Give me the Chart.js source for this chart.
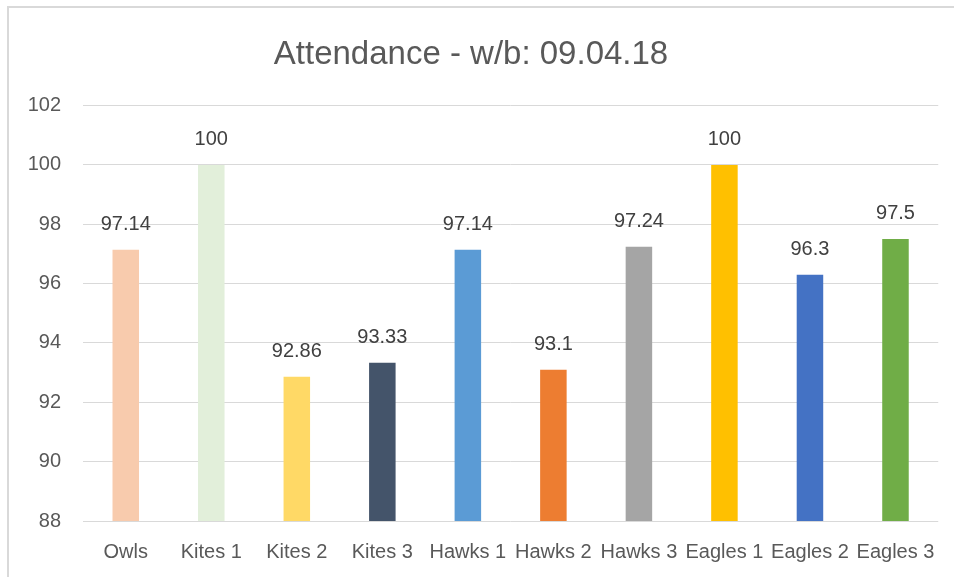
<!DOCTYPE html>
<html>
<head>
<meta charset="utf-8">
<script src="https://cdn.jsdelivr.net/npm/chart.js@4"></script>
<style>
  html, body { margin: 0; padding: 0; background: #fff; }
  #frame { position: absolute; left: 7px; top: 6px; width: 1000px; height: 700px;
           border-left: 2px solid #d9d9d9; border-top: 2px solid #d9d9d9; }
  #wrap { position: absolute; left: 0; top: 0; width: 954px; height: 577px; }
</style>
</head>
<body>
<div id="frame"></div>
<div id="wrap"><canvas id="chartAttendance"></canvas></div>
<script>
// classes and attendance %
const classNames = ['Owls', 'Kites 1', 'Kites 2', 'Kites 3', 'Hawks 1', 'Hawks 2', 'Hawks 3', 'Eagles 1', 'Eagles 2', 'Eagles 3'];
const attendance = [97.14, 100, 92.86, 93.33, 97.14, 93.1, 97.24, 100, 96.3, 97.5];
const barColours = ['#F8CBAD', '#E2EFDA', '#FFD966', '#44546A', '#5B9BD5', '#ED7D31', '#A5A5A5', '#FFC000', '#4472C4', '#70AD47'];
const yTicks = [88, 90, 92, 94, 96, 98, 100, 102];

const fontFam = '"Liberation Sans", Arial, sans-serif';

// draws the value over each bar
const valueLabels = {
  id: 'valueLabels',
  afterDatasetsDraw(chart) {
    const ctx = chart.ctx;
    const meta = chart.getDatasetMeta(0);
    ctx.save();
    ctx.font = '20px ' + fontFam;
    ctx.fillStyle = '#404040';
    ctx.textAlign = 'center';
    ctx.textBaseline = 'alphabetic';
    meta.data.forEach(function(bar, i) {
      ctx.fillText(String(chart.data.datasets[0].data[i]), bar.x, bar.y - 20);
    });
    ctx.restore();
  }
};

const config_attendance = {
  type: 'bar',
  data: {
    labels: classNames,
    datasets: [{
      label: 'Attendance',
      data: attendance,
      backgroundColor: barColours,
      barPercentage: 0.31,
      categoryPercentage: 1
    }]
  },
  options: {
    responsive: true,
    maintainAspectRatio: false,
    animation: false,
    layout: { padding: { left: 0, right: 12, top: 0, bottom: 12 } },
    plugins: {
      legend: { display: false },
      tooltip: { enabled: false },
      title: {
        display: true,
        text: 'Attendance - w/b: 09.04.18',
        color: '#595959',
        font: { size: 33, family: fontFam, weight: 'normal' },
        padding: { top: 35, bottom: 31 }
      }
    },
    scales: {
      x: {
        afterFit(scale) { scale.height = 44; },
        grid: { display: false, drawTicks: false },
        border: { display: false },
        ticks: {
          color: '#595959',
          padding: 19,
          maxRotation: 0,
          autoSkip: false,
          font: { size: 20, family: fontFam }
        }
      },
      y: {
        min: 88,
        max: 102,
        afterFit(scale) { scale.width = 83; },
        afterBuildTicks(scale) { scale.ticks = yTicks.map(v => ({ value: v })); },
        grid: { color: '#d9d9d9', lineWidth: 1, drawTicks: false },
        border: { display: false },
        ticks: {
          color: '#595959',
          padding: 22,
          font: { size: 20, family: fontFam }
        }
      }
    }
  },
  plugins: [valueLabels]
};

const chartAttendance = new Chart(
  document.getElementById('chartAttendance'),
  config_attendance
);
</script>
</body>
</html>
